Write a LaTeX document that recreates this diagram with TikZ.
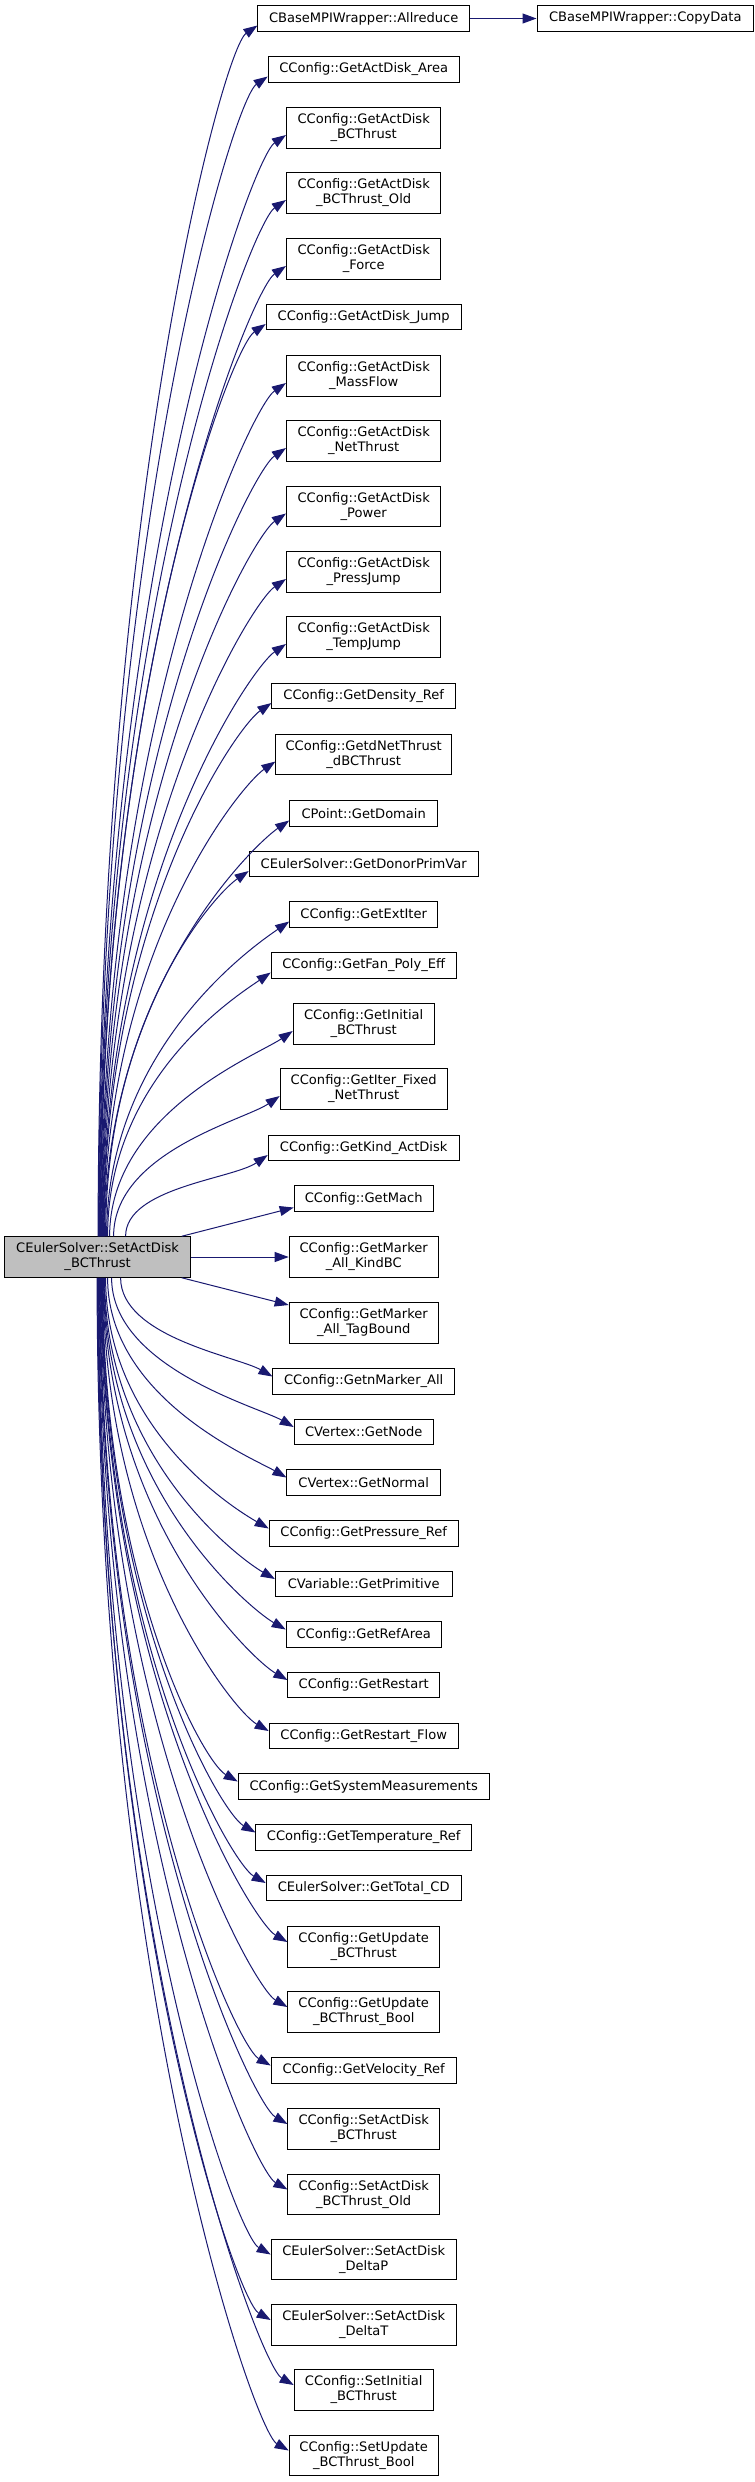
\documentclass[tikz,border=0pt]{standalone}
\usepackage{fontspec}
\setmainfont{DejaVu Sans}
\usepackage{tikz}
\usetikzlibrary{arrows.meta,calc}

\definecolor{edgeblue}{HTML}{191970}

\begin{document}
\begin{tikzpicture}[x=0.75pt, y=-0.75pt, >={Triangle[length=10.5pt,width=7.5pt]},
  fn/.style={draw=black, line width=0.75pt, fill=white, inner sep=0pt, align=center,
    font=\fontsize{9.8}{11.25}\selectfont, minimum height=19.1pt},
  fn2/.style={fn, minimum height=30.4pt},
  wd/.style={minimum width=#1*0.75pt},
  call/.style={->, draw=edgeblue, line width=0.75pt}]
  \useasboundingbox (0,0) rectangle (755,2482);

  \node[fn2, wd=185.4, fill=black!25] (main) at (97.6,1257) {CEulerSolver::SetActDisk\\\_BCThrust};

  \node[fn, wd=211.5] (allred) at (363.7,18.5) {CBaseMPIWrapper::Allreduce};
  \node[fn, wd=216.6] (copydata) at (645.3,18.5) {CBaseMPIWrapper::CopyData};
  \node[fn, wd=191] (area) at (363.7,69.5) {CConfig::GetActDisk\_Area};
  \node[fn2, wd=154.5] (bcthrust) at (363.7,128) {CConfig::GetActDisk\\\_BCThrust};
  \node[fn2, wd=154.5] (bcthrustold) at (363.7,193) {CConfig::GetActDisk\\\_BCThrust\_Old};
  \node[fn2, wd=154.5] (force) at (363.7,259) {CConfig::GetActDisk\\\_Force};
  \node[fn, wd=195] (jump) at (363.7,317) {CConfig::GetActDisk\_Jump};
  \node[fn2, wd=154.5] (massflow) at (363.7,376) {CConfig::GetActDisk\\\_MassFlow};
  \node[fn2, wd=154.5] (netthrust) at (363.7,441) {CConfig::GetActDisk\\\_NetThrust};
  \node[fn2, wd=154.5] (power) at (363.7,506.5) {CConfig::GetActDisk\\\_Power};
  \node[fn2, wd=154.5] (pressjump) at (363.7,572) {CConfig::GetActDisk\\\_PressJump};
  \node[fn2, wd=154.5] (tempjump) at (363.7,637) {CConfig::GetActDisk\\\_TempJump};
  \node[fn, wd=183.5] (density) at (363.7,696) {CConfig::GetDensity\_Ref};
  \node[fn2, wd=175.6] (dnetthrust) at (363.7,754.5) {CConfig::GetdNetThrust\\\_dBCThrust};
  \node[fn, wd=148] (domain) at (363.7,813.5) {CPoint::GetDomain};
  \node[fn, wd=229] (donor) at (363.7,864) {CEulerSolver::GetDonorPrimVar};
  \node[fn, wd=148] (extiter) at (363.7,914.5) {CConfig::GetExtIter};
  \node[fn, wd=185] (fan) at (363.7,965.5) {CConfig::GetFan\_Poly\_Eff};
  \node[fn2, wd=141] (initial) at (363.7,1024) {CConfig::GetInitial\\\_BCThrust};
  \node[fn2, wd=167] (iterfixed) at (363.7,1089) {CConfig::GetIter\_Fixed\\\_NetThrust};
  \node[fn, wd=191] (kind) at (363.7,1148) {CConfig::GetKind\_ActDisk};
  \node[fn, wd=139] (mach) at (363.7,1198.5) {CConfig::GetMach};
  \node[fn2, wd=149] (kindbc) at (363.7,1257) {CConfig::GetMarker\\\_All\_KindBC};
  \node[fn2, wd=149] (tagbound) at (363.7,1323) {CConfig::GetMarker\\\_All\_TagBound};
  \node[fn, wd=181.5] (nmarker) at (363.7,1381.5) {CConfig::GetnMarker\_All};
  \node[fn, wd=139] (node) at (363.7,1432) {CVertex::GetNode};
  \node[fn, wd=153.5] (normal) at (363.7,1482.5) {CVertex::GetNormal};
  \node[fn, wd=189] (pressure) at (363.7,1533.5) {CConfig::GetPressure\_Ref};
  \node[fn, wd=176.6] (primitive) at (363.7,1584) {CVariable::GetPrimitive};
  \node[fn, wd=155] (refarea) at (363.7,1634.5) {CConfig::GetRefArea};
  \node[fn, wd=151.5] (restart) at (363.7,1685) {CConfig::GetRestart};
  \node[fn, wd=189] (restartflow) at (363.7,1736) {CConfig::GetRestart\_Flow};
  \node[fn, wd=251] (sysmeas) at (363.7,1786.5) {CConfig::GetSystemMeasurements};
  \node[fn, wd=215.5] (temp) at (363.7,1837.5) {CConfig::GetTemperature\_Ref};
  \node[fn, wd=195] (totalcd) at (363.7,1888) {CEulerSolver::GetTotal\_CD};
  \node[fn2, wd=151.5] (updbc) at (363.7,1947) {CConfig::GetUpdate\\\_BCThrust};
  \node[fn2, wd=151.5] (updbool) at (363.7,2012) {CConfig::GetUpdate\\\_BCThrust\_Bool};
  \node[fn, wd=185] (velocity) at (363.7,2070.5) {CConfig::GetVelocity\_Ref};
  \node[fn2, wd=151.5] (setbc) at (363.7,2129) {CConfig::SetActDisk\\\_BCThrust};
  \node[fn2, wd=151.5] (setbcold) at (363.7,2194.5) {CConfig::SetActDisk\\\_BCThrust\_Old};
  \node[fn2, wd=185] (deltap) at (363.7,2259.5) {CEulerSolver::SetActDisk\\\_DeltaP};
  \node[fn2, wd=185] (deltat) at (363.7,2325) {CEulerSolver::SetActDisk\\\_DeltaT};
  \node[fn2, wd=139] (setinit) at (363.7,2390) {CConfig::SetInitial\\\_BCThrust};
  \node[fn2, wd=149] (setupdbool) at (363.7,2455.5) {CConfig::SetUpdate\\\_BCThrust\_Bool};

  \draw[call] (allred) -- (copydata);

  % calls drawn above the caller
  \foreach \callee/\off in {allred/0.5, area/1, bcthrust/1.5, bcthrustold/2, force/2.5,
      jump/3, massflow/3.5, netthrust/4, power/4.5, pressjump/5, tempjump/5.5,
      density/6, dnetthrust/6.5, domain/7, donor/8, extiter/9, fan/10, initial/12,
      iterfixed/16, kind/28}
    \draw[call] let \p1=($(main.north)+(\off,0)$), \p2=($(\callee.west)+(0,7)$) in
      (\p1) .. controls (\x1,{\y1+0.6*(\y2-\y1)}) and (\x2-26.25pt,\y2-18pt) .. (\p2);

  % the three short ones
  \draw[call] ($(main.north east)+(-9,0)$) -- ($(mach.west)+(0,9)$);
  \draw[call] (main) -- (kindbc);
  \draw[call] ($(main.south east)+(-9,0)$) -- ($(tagbound.west)+(0,-18)$);

  % calls drawn below the caller
  \foreach \callee/\off in {nmarker/23, node/14, normal/10, pressure/8, primitive/7,
      refarea/6.5, restart/6, restartflow/5.5, sysmeas/5, temp/4.5, totalcd/4,
      updbc/3.5, updbool/3, velocity/2.5, setbc/2, setbcold/1.5, deltap/1,
      deltat/0.5, setinit/0, setupdbool/-0.5}
    \draw[call] let \p1=($(main.south)+(\off,0)$), \p2=($(\callee.west)+(0,-5)$) in
      (\p1) .. controls (\x1,{\y1+0.6*(\y2-\y1)}) and (\x2-26.25pt,\y2+15pt) .. (\p2);
\end{tikzpicture}
\end{document}
